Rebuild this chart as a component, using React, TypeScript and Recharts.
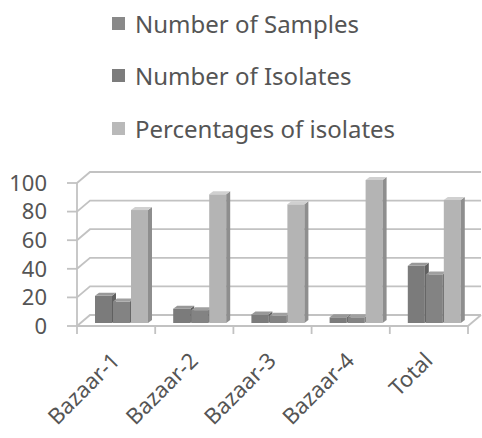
import React from 'react';
import { BarChart, Bar, XAxis, YAxis, CartesianGrid, Legend } from 'recharts';

const categories = ['Bazaar-1', 'Bazaar-2', 'Bazaar-3', 'Bazaar-4', 'Total'];
const samples = [19, 10, 6, 4, 40];
const isolates = [15, 9, 5, 4, 34];
const percentages = [79, 90, 83, 100, 86];
const yTicks = [0, 20, 40, 60, 80, 100];

const data = categories.map((name, i) => ({
  name,
  samples: samples[i],
  isolates: isolates[i],
  pct: percentages[i],
}));

const seriesOrder = ['samples', 'isolates', 'pct'];

const FONT = '"Noto Sans", "DejaVu Sans", sans-serif';
const TEXT = '#555555';
const GRID = '#c2c2c2';
const WALL_DX = 13;
const WALL_DY = 11;
const BAR_SX = 5;
const BAR_SY = -3;
const DEPTH_X = 4;
const DEPTH_Y = 3;

const make3D = (front: string, side: string, top: string) => (props: any) => {
  const { x, y, width, height } = props;
  if (x == null || width == null || isNaN(x) || isNaN(y)) return <g />;
  const fx = x + BAR_SX;
  const fy = y + BAR_SY;
  const h = Math.max(height || 0, 0);
  return (
    <g>
      <rect x={fx} y={fy} width={width} height={h} fill={front} />
      <polygon
        points={`${fx + width},${fy} ${fx + width + DEPTH_X},${fy - DEPTH_Y} ${fx + width + DEPTH_X},${fy + h - DEPTH_Y} ${fx + width},${fy + h}`}
        fill={side}
      />
      <polygon
        points={`${fx},${fy} ${fx + DEPTH_X},${fy - DEPTH_Y} ${fx + width + DEPTH_X},${fy - DEPTH_Y} ${fx + width},${fy}`}
        fill={top}
      />
    </g>
  );
};

const gridLine = (props: any) => {
  const { x1, x2, y1, index } = props;
  return (
    <path
      key={`g-${index}`}
      d={`M${x1},${y1} L${x1 + WALL_DX},${y1 - WALL_DY} L${x2 + WALL_DX},${y1 - WALL_DY}`}
      stroke={GRID}
      strokeWidth={1.8}
      fill="none"
    />
  );
};

const CatTick = (props: any) => {
  const { x, y, payload, index } = props;
  const half = payload.offset || 0;
  const tx = x + 5;
  const ty = y + 28;
  const axisY = y - 8;
  return (
    <g>
      <line x1={x - half} y1={axisY} x2={x - half} y2={axisY + 8} stroke={GRID} strokeWidth={1.8} />
      {index === categories.length - 1 && (
        <g>
          <line x1={x + half} y1={axisY} x2={x + half} y2={axisY + 8} stroke={GRID} strokeWidth={1.8} />
          <line x1={x + half} y1={axisY} x2={x + half + WALL_DX} y2={axisY - WALL_DY} stroke={GRID} strokeWidth={1.8} />
        </g>
      )}
      <text
        x={tx}
        y={ty}
        transform={`rotate(-45, ${tx}, ${ty})`}
        textAnchor="end"
        fontFamily={FONT}
        fontSize={22}
        fill={TEXT}
      >
        {payload.value}
      </text>
    </g>
  );
};

const legendSwatches: Record<string, string> = {
  samples: '#898989',
  isolates: '#7c7c7c',
  pct: '#b9b9b9',
};

const LegendContent = (props: any) => {
  const payload = [...(props.payload || [])].sort(
    (a: any, b: any) => seriesOrder.indexOf(a.dataKey) - seriesOrder.indexOf(b.dataKey)
  );
  return (
    <div style={{ position: 'relative', width: 0, height: 0, overflow: 'visible' }}>
      {payload.map((p: any, i: number) => (
        <div
          key={p.value}
          style={{
            position: 'absolute',
            left: 112,
            top: 7 + i * 52.5,
            height: 32,
            display: 'flex',
            alignItems: 'center',
            fontFamily: FONT,
            fontSize: 24,
            color: TEXT,
            whiteSpace: 'nowrap',
          }}
        >
          <span
            style={{
              display: 'inline-block',
              width: 13,
              height: 13,
              background: legendSwatches[p.dataKey] || p.color,
              marginRight: 10,
            }}
          />
          {p.value}
        </div>
      ))}
    </div>
  );
};

export default function App() {
  return (
    <div style={{ position: 'absolute', left: 0, top: 0, width: 482, height: 438, background: '#fff' }}>
      <BarChart
        width={482}
        height={438}
        data={data}
        margin={{ top: 183, right: 14, bottom: 32, left: 0 }}
        barSize={17}
        barGap={1}
      >
        <CartesianGrid vertical={false} horizontal={gridLine} />
        <XAxis
          dataKey="name"
          height={80}
          axisLine={{ stroke: GRID, strokeWidth: 1.8 }}
          tickLine={false}
          tickSize={8}
          tickMargin={0}
          interval={0}
          tick={<CatTick />}
        />
        <YAxis
          domain={[0, 100]}
          ticks={yTicks}
          interval={0}
          width={77}
          tickSize={10}
          tickMargin={20}
          axisLine={{ stroke: GRID, strokeWidth: 1.8 }}
          tickLine={{ stroke: GRID, strokeWidth: 1.8 }}
          tick={{ fontFamily: FONT, fontSize: 22, fill: TEXT }}
        />
        <Legend
          layout="vertical"
          verticalAlign="middle"
          align="center"
          wrapperStyle={{ position: 'absolute', top: 0, left: 0, width: 0, height: 0 }}
          content={<LegendContent />}
        />
        <Bar
          dataKey="samples"
          name="Number of Samples"
          fill="#7b7b7b"
          isAnimationActive={false}
          shape={make3D('#7b7b7b', '#606060', '#989898')}
        />
        <Bar
          dataKey="isolates"
          name="Number of Isolates"
          fill="#838383"
          isAnimationActive={false}
          shape={make3D('#838383', '#666666', '#a0a0a0')}
        />
        <Bar
          dataKey="pct"
          name="Percentages of isolates"
          fill="#b4b4b4"
          isAnimationActive={false}
          shape={make3D('#b4b4b4', '#8e8e8e', '#d0d0d0')}
        />
      </BarChart>
    </div>
  );
}
